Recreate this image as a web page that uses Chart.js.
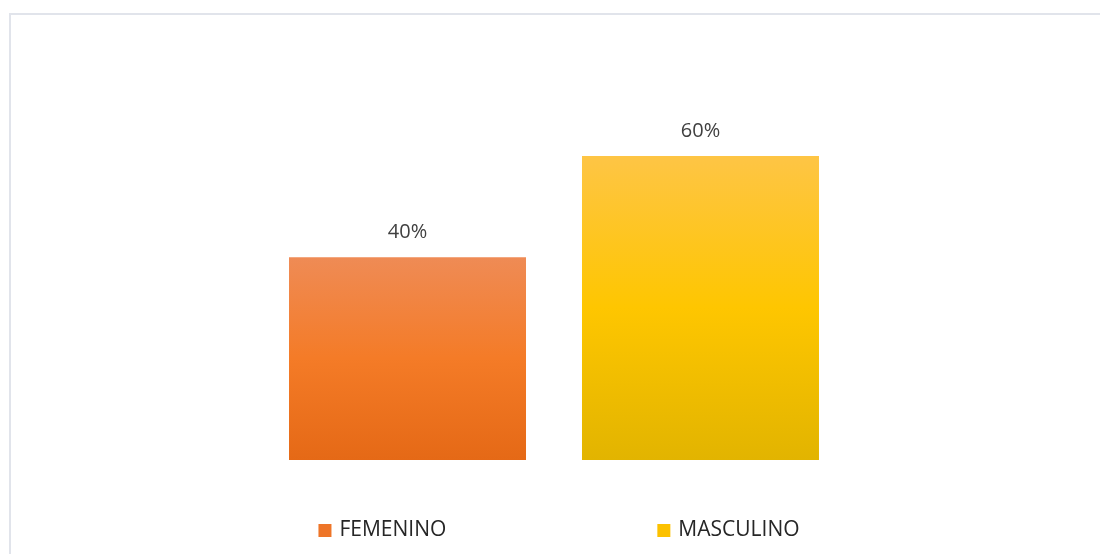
<!DOCTYPE html>
<html>
<head>
<meta charset="utf-8">
<script src="https://cdn.jsdelivr.net/npm/chart.js@4/dist/chart.umd.min.js"></script>
<style>
  html, body { margin: 0; padding: 0; background: #ffffff; }
  #wrap { position: relative; width: 1100px; height: 554px; overflow: hidden; }
  #frame { position: absolute; left: 9px; top: 13px; width: 1100px; height: 560px;
           border-top: 2px solid #e1e4eb; border-left: 2px solid #e1e4eb; box-sizing: border-box; }
  canvas { position: absolute; left: 0; top: 0; }
</style>
</head>
<body>
<div id="wrap">
  <div id="frame"></div>
  <canvas id="c" width="1100" height="554"></canvas>
</div>
<script>
const categories = [''];
const seriesNames = ['FEMENINO', 'MASCULINO'];
const femeninoValues = [40];
const masculinoValues = [60];
const valueSuffix = '%';

const gradientStops = [
  ['#ef8b55', '#f47b27', '#e56916'],
  ['#fec545', '#fec600', '#e2b400']
];
const legendSwatch = ['#ee7528', '#fcc100'];

function barGradient(ctx) {
  const chart = ctx.chart;
  const area = chart.chartArea;
  if (!area) return gradientStops[ctx.datasetIndex][1];
  const y = chart.scales.y;
  const v = ctx.raw;
  const top = y.getPixelForValue(v);
  const bottom = y.getPixelForValue(0);
  const g = chart.ctx.createLinearGradient(0, top, 0, bottom);
  const s = gradientStops[ctx.datasetIndex];
  g.addColorStop(0, s[0]);
  g.addColorStop(0.5, s[1]);
  g.addColorStop(1, s[2]);
  return g;
}

const valueLabels = {
  id: 'valueLabels',
  afterDatasetsDraw(chart) {
    const c = chart.ctx;
    c.save();
    c.font = '20px "Open Sans"';
    c.fillStyle = '#404040';
    c.textAlign = 'center';
    c.textBaseline = 'middle';
    chart.data.datasets.forEach((ds, i) => {
      const meta = chart.getDatasetMeta(i);
      meta.data.forEach((bar, j) => {
        c.fillText(ds.data[j] + valueSuffix, bar.x, bar.y - 25);
      });
    });
    c.restore();
  }
};

const bottomLegend = {
  id: 'bottomLegend',
  afterDraw(chart) {
    const c = chart.ctx;
    c.save();
    c.font = '21px "Open Sans"';
    c.textBaseline = 'middle';
    c.textAlign = 'left';
    const box = 13, boxGap = 8, itemGap = 211;
    const widths = chart.data.datasets.map(ds => box + boxGap + c.measureText(ds.label).width);
    const total = widths.reduce((a, b) => a + b, 0) + itemGap * (widths.length - 1);
    const area = chart.chartArea;
    let x = (area.left + area.right) / 2 - total / 2 + 5;
    const yMid = 530.5;
    chart.data.datasets.forEach((ds, i) => {
      c.fillStyle = legendSwatch[i];
      c.fillRect(x, yMid - box / 2, box, box);
      c.fillStyle = '#262626';
      c.fillText(ds.label, x + box + boxGap, yMid);
      x += widths[i] + itemGap;
    });
    c.restore();
  }
};

new Chart(document.getElementById('c'), {
  type: 'bar',
  data: {
    labels: categories,
    datasets: [
      { label: seriesNames[0], data: femeninoValues, backgroundColor: barGradient },
      { label: seriesNames[1], data: masculinoValues, backgroundColor: barGradient }
    ]
  },
  options: {
    responsive: false,
    animation: false,
    devicePixelRatio: 1,
    layout: { padding: { left: 8, right: 0, top: 80, bottom: 94 } },
    datasets: { bar: { categoryPercentage: 0.5366, barPercentage: 0.8089 } },
    scales: {
      x: { display: false },
      y: { display: false, min: 0, max: 75 }
    },
    plugins: {
      legend: { display: false },
      tooltip: { enabled: false }
    }
  },
  plugins: [valueLabels, bottomLegend]
});
</script>
</body>
</html>
